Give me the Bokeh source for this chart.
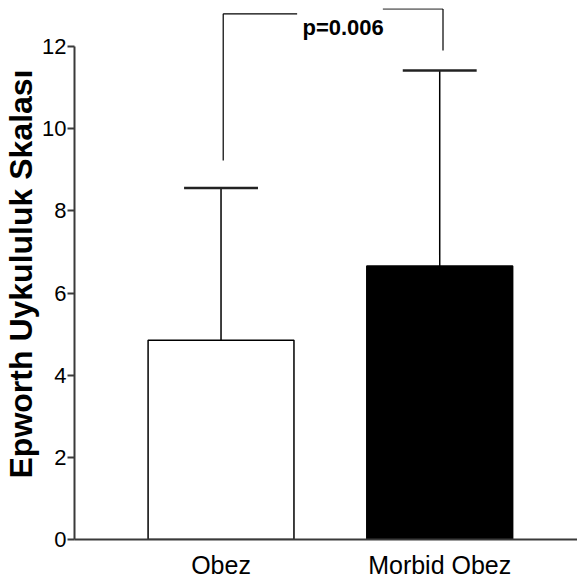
from bokeh.plotting import figure
from bokeh.models import Range1d, FixedTicker, ColumnDataSource
from bokeh.core.properties import value
from bokeh.embed import file_html
from bokeh.resources import INLINE

# ---- data ----
categories = ["Obez", "Morbid Obez"]
means = [4.85, 6.66]
sd_upper = [8.56, 11.42]
bar_colors = ["white", "black"]
y_ticks = [0, 2, 4, 6, 8, 10, 12]
y_label = "Epworth Uykululuk Skalası"
p_label = "p=0.006"
bracket_left = [9.23, 12.80]    # bottom, top of left leg
bracket_right = [11.91, 12.92]  # bottom, top of right leg
p_text_y = 12.46

# ---- style ----
BAR_W = 0.667
CAP_W = 0.338
FONT = "Liberation Sans"
AX_COLOR = "#3a3a3a"

xs = [i + 0.5 for i in range(len(categories))]

p = figure(frame_width=503, frame_height=531, output_backend="svg", toolbar_location=None,
           x_range=Range1d(-0.17, 2.13), y_range=Range1d(0, 12.93),
           min_border_left=65, min_border_right=0, min_border_top=8,
           min_border_bottom=41)
p.outline_line_color = None
p.grid.visible = False
p.background_fill_color = "white"
p.border_fill_color = "white"

src = ColumnDataSource(dict(x=xs, top=means, upper=sd_upper, color=bar_colors,
                            cl=[x - CAP_W / 2 for x in xs], cr=[x + CAP_W / 2 for x in xs]))

# error bars (upper only)
p.segment(x0="x", y0="top", x1="x", y1="upper", source=src, line_color="black", line_width=1.5)
p.segment(x0="cl", y0="upper", x1="cr", y1="upper", source=src, line_color="#222222", line_width=2.5)
# bars
p.vbar(x="x", top="top", width=BAR_W, bottom=0, source=src, fill_color="color",
       line_color="black", line_width=1.5)

# significance bracket
lx, rx = xs[0] + 0.01, xs[1] + 0.015
p.segment(x0=[lx, rx], y0=[bracket_left[0], bracket_right[0]],
          x1=[lx, rx], y1=[bracket_left[1], bracket_right[1]],
          line_color="black", line_width=1.2)
p.segment(x0=[lx, rx], y0=[bracket_left[1], bracket_right[1]],
          x1=[lx + 0.338, rx - 0.275], y1=[bracket_left[1], bracket_right[1]],
          line_color="black", line_width=1.2)
p.text(x=[(lx + rx) / 2], y=[p_text_y], text=[p_label], x_offset=10,
       text_font=value(FONT), text_font_style="bold", text_font_size="22px",
       text_align="center", text_baseline="alphabetic", text_color="black")

# y axis
ya = p.yaxis[0]
ya.ticker = FixedTicker(ticks=y_ticks)
ya.bounds = (0, 12)
ya.axis_line_color = AX_COLOR
ya.axis_line_width = 2
ya.major_tick_line_color = AX_COLOR
ya.major_tick_line_width = 2
ya.major_tick_in = 0
ya.major_tick_out = 7
ya.minor_tick_line_color = None
ya.major_label_standoff = 1
ya.major_label_text_font = FONT
ya.major_label_text_font_size = "22px"
ya.major_label_text_color = "black"
ya.axis_label = y_label
ya.axis_label_text_font = FONT
ya.axis_label_text_font_style = "bold"
ya.axis_label_text_font_size = "32px"
ya.axis_label_text_color = "black"
ya.axis_label_standoff = 0

# x axis
xa = p.xaxis[0]
xa.ticker = FixedTicker(ticks=xs)
xa.major_label_overrides = {x: c for x, c in zip(xs, categories)}
xa.axis_line_color = AX_COLOR
xa.axis_line_width = 2
xa.major_tick_line_color = None
xa.major_tick_in = 0
xa.major_tick_out = 0
xa.minor_tick_line_color = None
xa.major_label_standoff = 11
xa.major_label_text_font = FONT
xa.major_label_text_font_size = "25px"
xa.major_label_text_color = "black"

open("out.html", "w").write(file_html(p, INLINE))
